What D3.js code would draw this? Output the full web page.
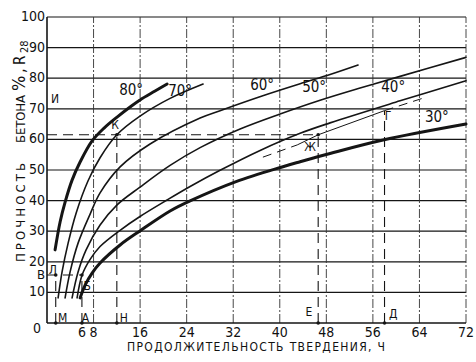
<!DOCTYPE html>
<html>
<head>
<meta charset="utf-8">
<script src="https://cdn.jsdelivr.net/npm/d3@7"></script>
<style>
  body { margin: 0; background: #fff; }
  svg text { font-family: "Liberation Sans Narrow", "DejaVu Sans Condensed", "Arial Narrow", sans-serif; fill: #111; }
</style>
</head>
<body>
<div id="chart"></div>
<script>
// axis values
const yTicks = [0, 10, 20, 30, 40, 50, 60, 70, 80, 90, 100];
const xTicks = [6, 8, 16, 24, 32, 40, 48, 56, 64, 72];
const xGrid = [8, 16, 24, 32, 40, 48, 56, 64, 72];

// strength curves, [hours, % of R28]
const temps = [80, 70, 60, 50, 40, 30];
const c80 = [[1.39,23.9],[2.25,33.0],[3.11,39.5],[4.31,46.7],[5.69,52.6],[7.75,59.5],[9.81,63.7],[12.04,67.3],[14.28,70.6],[15.98,72.9],[18.57,75.8],[20.64,78.1]];
const c70 = [[1.91,8.2],[2.59,16.7],[3.63,26.1],[5.0,35.9],[7.06,46.5],[9.12,54.0],[12.0,61.5],[15.98,67.6],[21.15,73.4],[26.82,78.1]];
const c60 = [[3.11,8.2],[3.97,16.7],[5.34,26.1],[7.41,35.6],[9.12,42.5],[12.56,51.0],[17.71,58.5],[26.31,67.0],[29.74,69.4],[36.96,74.2],[43.5,78.2],[48.64,81.2],[53.45,84.3]];
const c50 = [[4.31,8.2],[5.34,16.7],[6.72,23.9],[9.12,32.0],[12.04,38.6],[15.98,44.4],[21.15,51.5],[26.31,57.3],[33.18,63.4],[40.05,68.3],[46.93,72.8],[53.8,76.8],[60.67,80.6],[72,86.8]];
const c40 = [[5.17,8.2],[6.03,15.7],[7.41,20.8],[9.12,25.0],[12.56,30.3],[15.98,34.8],[20.64,40.2],[24.59,44.6],[29.74,49.9],[36.62,56.4],[43.5,62.0],[48.64,65.4],[60.67,72.6],[72,79.2]];
const c30 = [[5.69,8.2],[6.55,12.4],[7.75,16.3],[9.12,19.6],[12.56,25.5],[15.98,30.1],[21.15,36.6],[24.59,39.9],[32.49,46.2],[40.4,51.0],[43.5,52.7],[48.64,55.4],[57.75,59.8],[72,65.0]];
const curves = [c80, c70, c60, c50, c40, c30];
const tempLabelAt = [[14.45,76.1],[22.87,75.5],[36.96,77.5],[45.9,77.1],[59.5,76.8],[67.0,67.3]];

// interpolated thin line (Ж - Г), dashed flag per segment
const interp = [[37.1,54.2],[43.0,58.2],[46.6,61.5],[58.0,69.4],[65.3,73.9]];
const interpDashed = [true, false, false, true];

// construction lines
const hDash = [[61.5, 0, 46.6], [15.7, 0, 6]];           // [level, from h, to h]
const vDash = [[1.5, 15.7], [6, 15.7], [12, 61.5], [46.6, 61.5], [58.0, 69.4]]; // [h, up to %]
const dots = [[1.5,15.7],[6,15.7],[1.5,0],[6,0],[12,0],[46.6,0],[58.0,0],[12,61.5],[46.6,61.5]];
const letters = [["К",11.7,64.7],["Ж",45.2,57.2],["Г",58.6,67.6],["Е",45.0,3.3],["Д",59.5,2.9],
                 ["Н",13.2,1.6],["М",2.7,1.6],["А",6.6,1.6],["Б",6.9,11.8],["Л",1.0,17.0],["И",1.4,72.9]];

const W = 476, H = 362;
const margin = { top: 17, right: 10, bottom: 39, left: 47 };

const svg = d3.select("#chart").append("svg")
  .attr("width", W).attr("height", H);

const x = d3.scaleLinear().domain([0, 72]).range([margin.left, W - margin.right]);
const y = d3.scaleLinear().domain([0, 100]).range([H - margin.bottom, margin.top]);

const ink = "#151515";

// horizontal grid
svg.append("g").selectAll("line")
  .data(yTicks.filter(d => d > 0))
  .join("line")
  .attr("x1", x(0)).attr("x2", x(72))
  .attr("y1", d => y(d)).attr("y2", d => y(d))
  .attr("stroke", ink).attr("stroke-width", 1.2);

// vertical grid (broken)
svg.append("g").selectAll("line")
  .data(xGrid)
  .join("line")
  .attr("x1", d => x(d)).attr("x2", d => x(d))
  .attr("y1", y(0)).attr("y2", y(100))
  .attr("stroke", "#333").attr("stroke-width", 0.9)
  .attr("stroke-dasharray", "9,2,2,2");

// axes
svg.append("line")
  .attr("x1", x(0)).attr("x2", x(0)).attr("y1", y(0)).attr("y2", y(100))
  .attr("stroke", ink).attr("stroke-width", 1.6);
svg.append("line")
  .attr("x1", x(0)).attr("x2", x(72)).attr("y1", y(0)).attr("y2", y(0))
  .attr("stroke", ink).attr("stroke-width", 1.6);

// y tick labels
svg.append("g").selectAll("text")
  .data(yTicks)
  .join("text")
  .attr("x", d => d === 0 ? x(0) - 6 : x(0) - 2)
  .attr("y", d => d === 0 ? y(0) + 6 : y(d))
  .attr("text-anchor", "end")
  .attr("dominant-baseline", "middle")
  .attr("font-size", 14)
  .text(d => d);

svg.append("text")
  .attr("x", x(0) - 2).attr("y", y(15.4))
  .attr("text-anchor", "end").attr("dominant-baseline", "middle")
  .attr("font-size", 13).text("В");

// x tick labels
svg.append("g").selectAll("text")
  .data(xTicks)
  .join("text")
  .attr("x", d => x(d))
  .attr("y", y(0) + 10)
  .attr("text-anchor", "middle")
  .attr("dominant-baseline", "middle")
  .attr("font-size", 14)
  .text(d => d);

// axis titles
svg.append("text")
  .attr("x", 127).attr("y", 351)
  .attr("font-size", 12)
  .attr("textLength", 258).attr("lengthAdjust", "spacing")
  .text("ПРОДОЛЖИТЕЛЬНОСТЬ ТВЕРДЕНИЯ, Ч");

const yTitle = [["ПРОЧНОСТЬ", 262, 99, 13], ["БЕТОНА", 143, 48, 13], ["%,", 91, 23, 18], ["R", 65, 10, 15]];
yTitle.forEach(([t, y0, len, fs]) => {
  svg.append("text")
    .attr("transform", `translate(25,${y0}) rotate(-90)`)
    .attr("font-size", fs)
    .attr("textLength", len).attr("lengthAdjust", "spacing")
    .text(t);
});
svg.append("text")
  .attr("transform", `translate(28,53) rotate(-90)`)
  .attr("font-size", 11)
  .text("28");

// curves
const line = d3.line().x(d => x(d[0])).y(d => y(d[1])).curve(d3.curveCatmullRom.alpha(0.5));
svg.append("g").selectAll("path")
  .data(curves)
  .join("path")
  .attr("d", line)
  .attr("fill", "none")
  .attr("stroke", ink)
  .attr("stroke-width", (d, i) => (temps[i] === 80 || temps[i] === 30) ? 3 : 1.6)
  .attr("stroke-linecap", "round");

// temperature labels
svg.append("g").selectAll("text")
  .data(temps)
  .join("text")
  .attr("x", (d, i) => x(tempLabelAt[i][0]))
  .attr("y", (d, i) => y(tempLabelAt[i][1]))
  .attr("text-anchor", "middle")
  .attr("dominant-baseline", "middle")
  .attr("font-size", 15)
  .text(d => d + "°");

// interpolated line
const seg = d3.range(interp.length - 1).map(i => [interp[i], interp[i + 1]]);
svg.append("g").selectAll("line")
  .data(seg)
  .join("line")
  .attr("x1", d => x(d[0][0])).attr("y1", d => y(d[0][1]))
  .attr("x2", d => x(d[1][0])).attr("y2", d => y(d[1][1]))
  .attr("stroke", ink).attr("stroke-width", 1)
  .attr("stroke-dasharray", (d, i) => interpDashed[i] ? "9,6" : null);

// construction dashed lines
svg.append("g").selectAll("line")
  .data(hDash)
  .join("line")
  .attr("x1", d => x(d[1])).attr("x2", d => x(d[2]))
  .attr("y1", d => y(d[0])).attr("y2", d => y(d[0]))
  .attr("stroke", ink).attr("stroke-width", 1.1)
  .attr("stroke-dasharray", "10,6");
svg.append("g").selectAll("line")
  .data(vDash)
  .join("line")
  .attr("x1", d => x(d[0])).attr("x2", d => x(d[0]))
  .attr("y1", y(0)).attr("y2", d => y(d[1]))
  .attr("stroke", ink).attr("stroke-width", 1.1)
  .attr("stroke-dasharray", "10,6");

svg.append("g").selectAll("circle")
  .data(dots)
  .join("circle")
  .attr("cx", d => x(d[0])).attr("cy", d => y(d[1]))
  .attr("r", 1.8).attr("fill", ink);

svg.append("g").selectAll("text")
  .data(letters)
  .join("text")
  .attr("x", d => x(d[1])).attr("y", d => y(d[2]))
  .attr("text-anchor", "middle")
  .attr("dominant-baseline", "middle")
  .attr("font-size", 12)
  .text(d => d[0]);
</script>
</body>
</html>
